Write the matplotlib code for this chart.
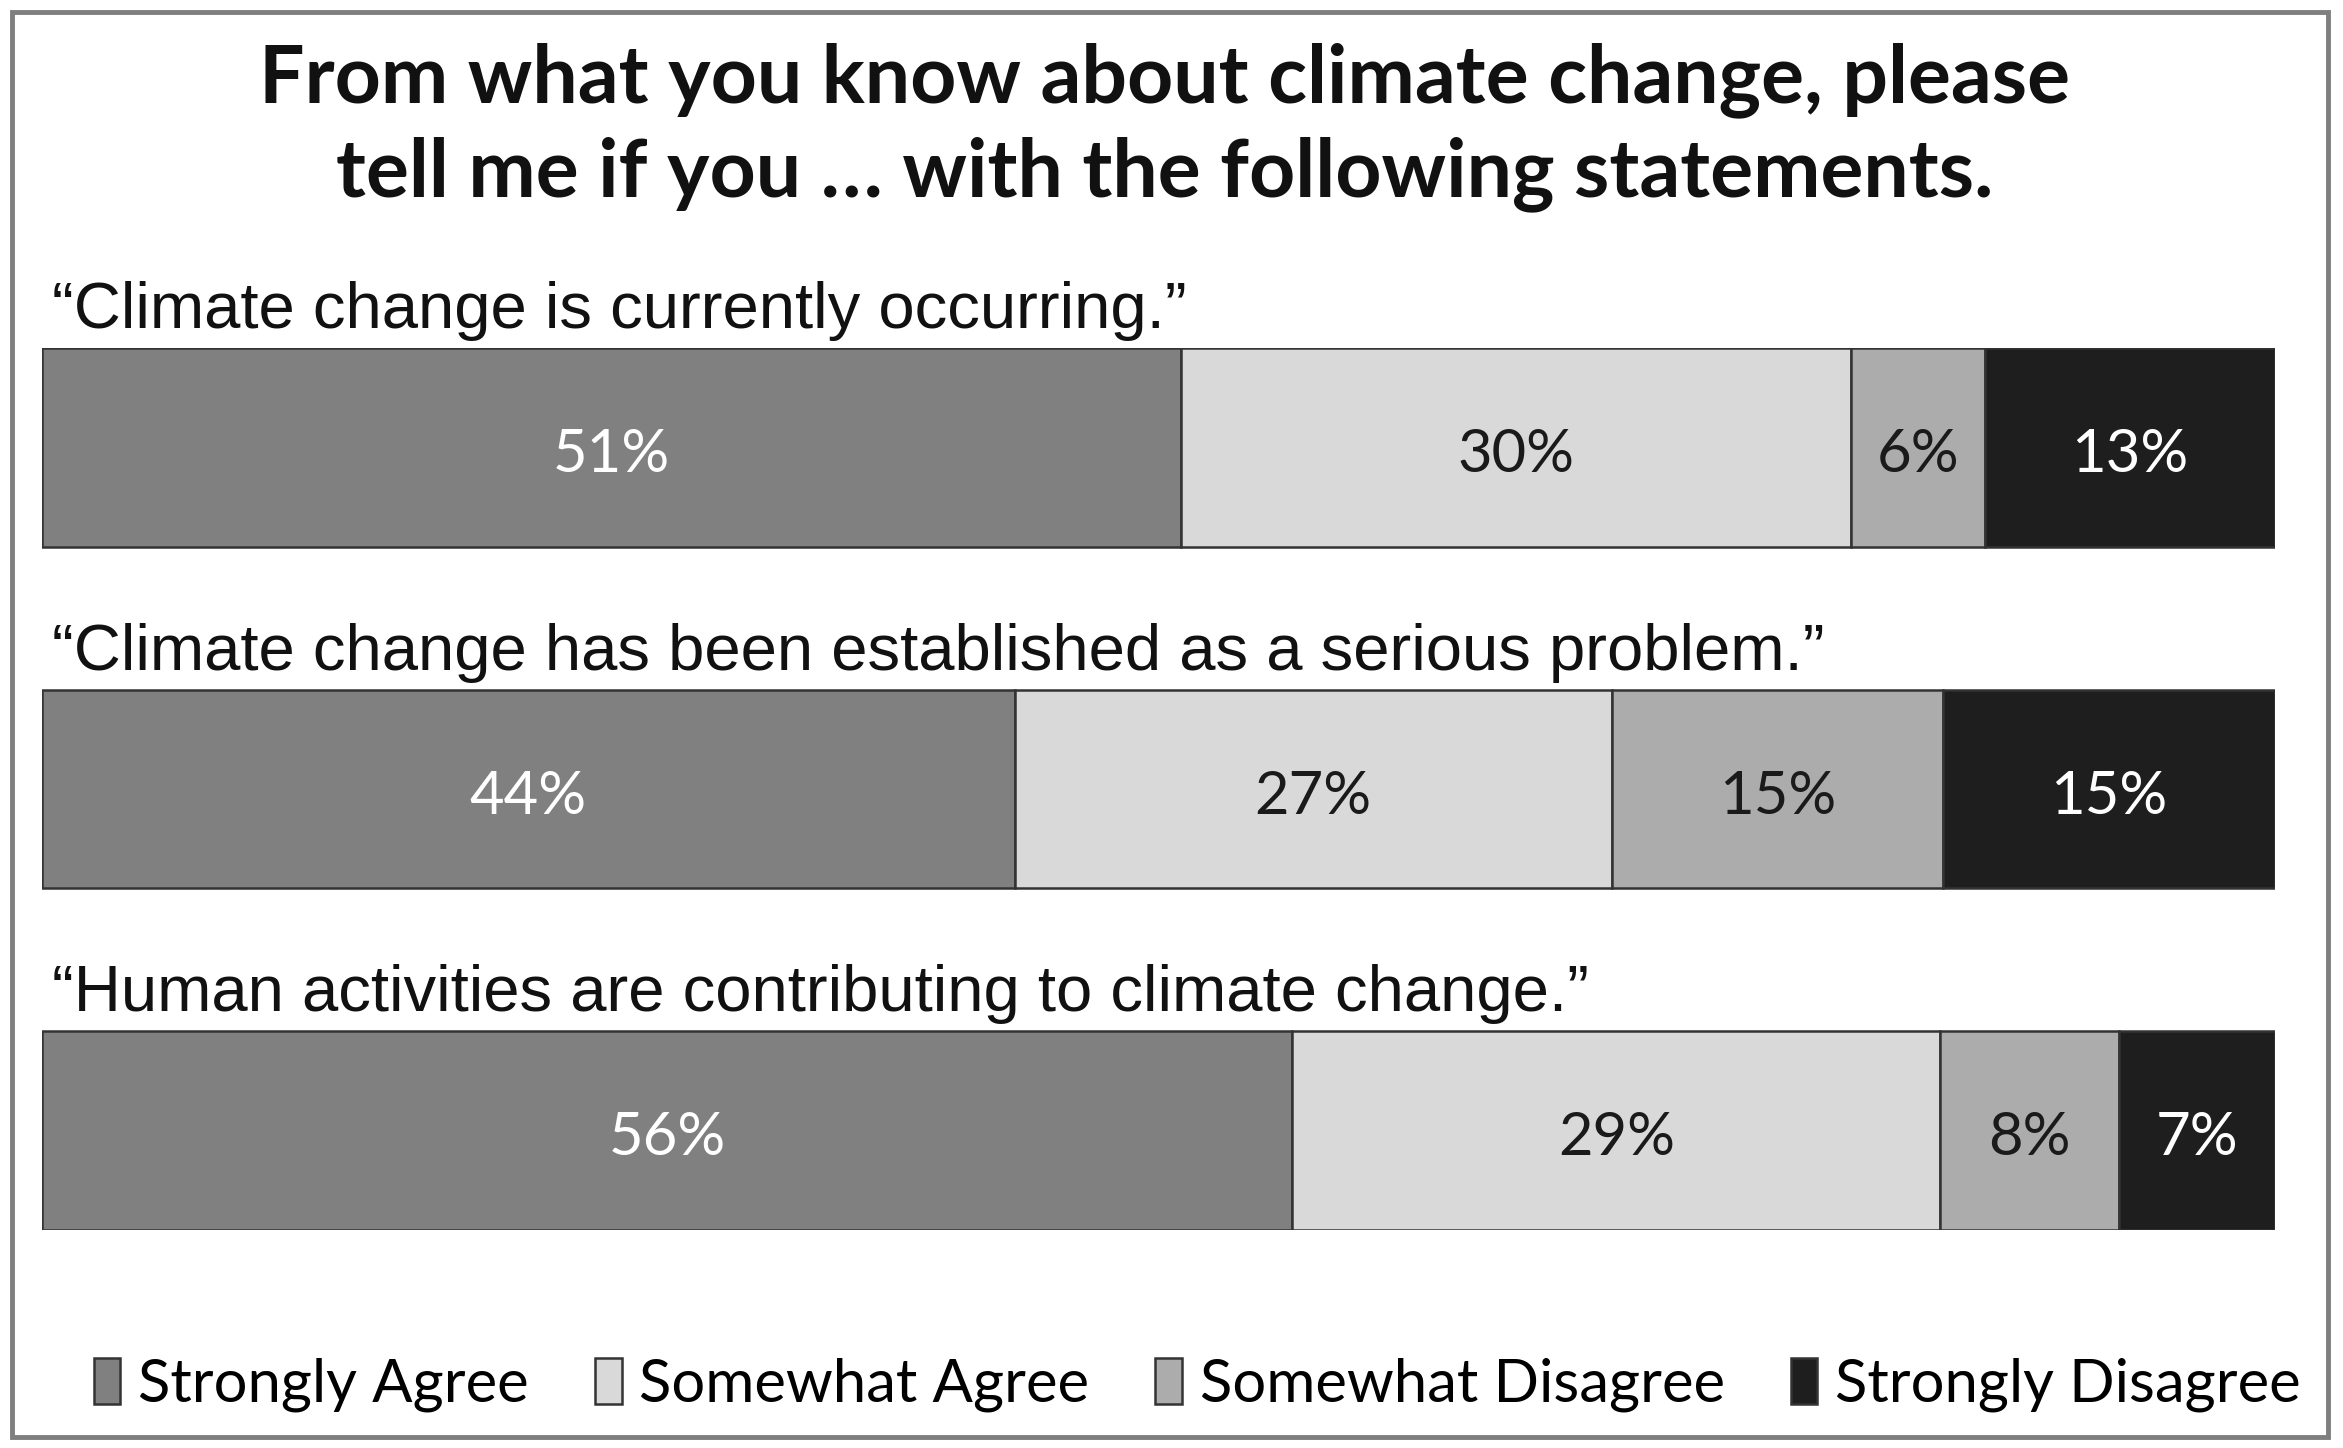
import numpy as np
import matplotlib
matplotlib.use('Agg')
import matplotlib.pyplot as plt
from matplotlib.patches import Rectangle

statements = ['\u201cClimate change is currently occurring.\u201d',
              '\u201cClimate change has been established as a serious problem.\u201d',
              '\u201cHuman activities are contributing to climate change.\u201d']
categories = ['Strongly Agree', 'Somewhat Agree', 'Somewhat Disagree', 'Strongly Disagree']
strongly_agree = [51, 44, 56]
somewhat_agree = [30, 27, 29]
somewhat_disagree = [6, 15, 8]
strongly_disagree = [13, 15, 7]

colors = ['#808080', '#d9d9d9', '#acacac', '#1e1e1e']
text_colors = ['white', '#1a1a1a', '#1a1a1a', 'white']

W, H = 2343, 1448
fig = plt.figure(figsize=(W / 100, H / 100), dpi=100)

# outer frame
fig.patches.append(Rectangle((12 / W, 1 - 1437 / H), (2328 - 12) / W, (1437 - 12) / H,
                             transform=fig.transFigure, fill=False,
                             edgecolor='#7f7f7f', linewidth=3.5))

fig.text(0.497, 0.912, 'From what you know about climate change, please\ntell me if you \u2026 with the following statements.',
         ha='center', va='center', fontsize=58, fontweight='bold', family='Lato',
         linespacing=1.3, color='#111111')

ax = fig.add_axes([42 / W, 1 - 1230 / H, (2275 - 42) / W, (1230 - 348) / H])
data = np.array([strongly_agree, somewhat_agree, somewhat_disagree, strongly_disagree], dtype=float)
totals = data.sum(axis=0)
frac = data / totals
pos = np.arange(len(statements))
bar_h = 0.582
left = np.zeros(len(statements))
for i, cat in enumerate(categories):
    ax.barh(pos, frac[i], left=left, height=bar_h, color=colors[i],
            edgecolor='#333333', linewidth=1.8, label=cat)
    for j in range(len(statements)):
        ax.text(left[j] + frac[i][j] / 2, pos[j] + 0.022, '%d%%' % data[i][j],
                ha='center', va='center', fontsize=43, family='Lato',
                color=text_colors[i])
    left += frac[i]

for j, s in enumerate(statements):
    ax.text(0.0045, pos[j] - bar_h / 2 - 0.108, s, ha='left', va='center',
            fontsize=47, family='Liberation Sans', color='#111111')

ax.set_xlim(0, 1)
ax.set_ylim(2 + bar_h / 2, -bar_h / 2)
ax.axis('off')

handles, labels = ax.get_legend_handles_labels()
fig.legend(handles, labels, loc='center', bbox_to_anchor=(0.511, 1 - 1385 / H), ncol=4,
           frameon=False, prop={'family': 'Lato', 'size': 43},
           handlelength=0.45, handleheight=0.8, handletextpad=0.3, columnspacing=1.1)

fig.savefig('out.png', dpi=100, facecolor='white')
